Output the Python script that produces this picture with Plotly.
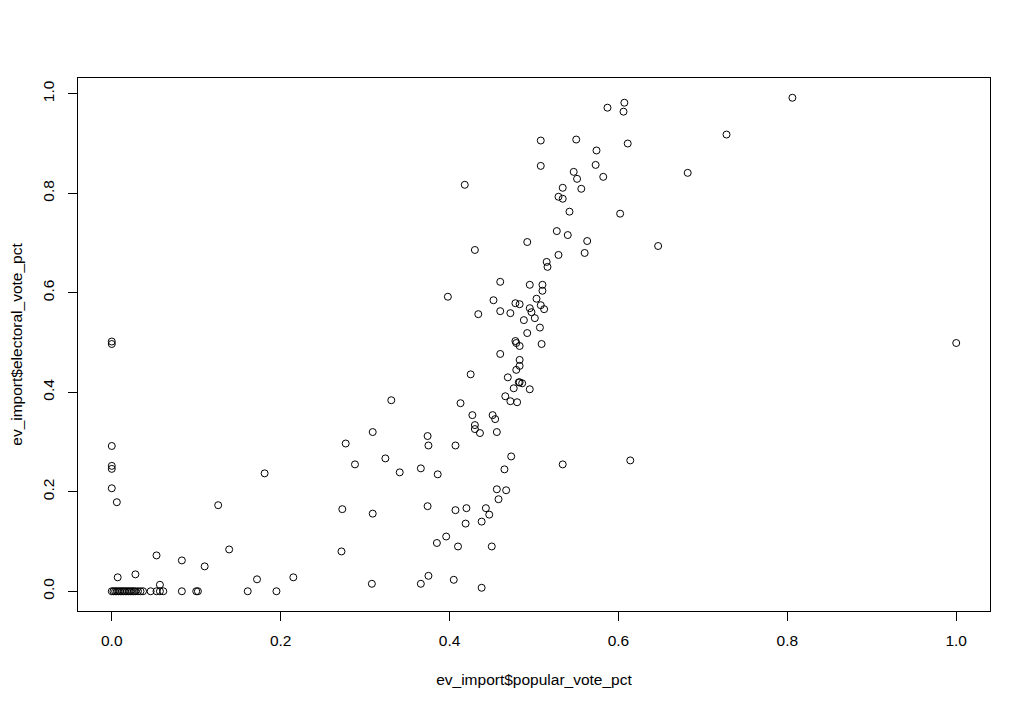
import plotly.graph_objects as go

popular_vote_pct = [
    0, 0, 0, 0, 0, 0, 0.006,
    0.007, 0.028, 0.053, 0.083, 0.110, 0.057, 0.126, 0.139, 0.181, 0.172, 0.215, 0.161, 0.195,
    0, 0.002, 0.004, 0.006, 0.008, 0.010, 0.012, 0.014, 0.016, 0.018, 0.020, 0.022, 0.024,
    0.026, 0.028, 0.031, 0.034, 0.037, 0.046, 0.053, 0.057, 0.061, 0.083, 0.100, 0.102,
    0.277, 0.288, 0.273, 0.272,
    0.331, 0.309, 0.374, 0.375, 0.407, 0.324, 0.341, 0.366, 0.386, 0.309, 0.374, 0.407,
    0.420, 0.419, 0.396, 0.385, 0.410, 0.308, 0.366, 0.375, 0.405, 0.438, 0.450, 0.438,
    0.447, 0.443, 0.458, 0.456, 0.467, 0.465, 0.473, 0.534, 0.456, 0.436, 0.430, 0.430,
    0.427, 0.451, 0.454, 0.413, 0.425, 0.466, 0.472, 0.480, 0.476, 0.495, 0.482, 0.483,
    0.486, 0.469, 0.479, 0.483, 0.483, 0.460, 0.478, 0.479, 0.483, 0.509, 0.492, 0.507,
    0.614,
    0.607, 0.606, 0.587, 0.508, 0.550, 0.611, 0.574, 0.508, 0.573, 0.547, 0.551, 0.582,
    0.418, 0.534, 0.556, 0.529, 0.534, 0.542, 0.602, 0.527, 0.540, 0.563, 0.492, 0.430,
    0.647, 0.529, 0.560, 0.515, 0.516, 0.460, 0.495, 0.510, 0.510, 0.398, 0.452, 0.503,
    0.478, 0.483, 0.508, 0.512, 0.495, 0.497, 0.460, 0.472, 0.434, 0.501, 0.488,
    0.806, 0.728, 0.682, 1.0,
]

electoral_vote_pct = [
    0.502, 0.497, 0.292, 0.252, 0.246, 0.207, 0.179,
    0.028, 0.034, 0.072, 0.062, 0.050, 0.013, 0.173, 0.084, 0.237, 0.024, 0.028, 0, 0,
    0, 0, 0, 0, 0, 0, 0, 0, 0, 0, 0, 0, 0,
    0, 0, 0, 0, 0, 0, 0, 0, 0, 0, 0, 0,
    0.297, 0.255, 0.165, 0.080,
    0.384, 0.320, 0.312, 0.293, 0.293, 0.267, 0.239, 0.247, 0.235, 0.156, 0.171, 0.163,
    0.167, 0.136, 0.110, 0.097, 0.090, 0.015, 0.015, 0.031, 0.023, 0.007, 0.090, 0.140,
    0.154, 0.167, 0.185, 0.205, 0.203, 0.245, 0.271, 0.255, 0.320, 0.318, 0.334, 0.326,
    0.354, 0.354, 0.346, 0.378, 0.436, 0.392, 0.382, 0.380, 0.408, 0.406, 0.420, 0.420,
    0.418, 0.430, 0.445, 0.453, 0.465, 0.477, 0.503, 0.499, 0.493, 0.497, 0.519, 0.530,
    0.263,
    0.982, 0.964, 0.972, 0.906, 0.908, 0.900, 0.886, 0.855, 0.857, 0.843, 0.829, 0.833,
    0.817, 0.811, 0.809, 0.793, 0.789, 0.763, 0.759, 0.724, 0.716, 0.704, 0.702, 0.686,
    0.694, 0.676, 0.680, 0.662, 0.652, 0.622, 0.616, 0.616, 0.604, 0.592, 0.585, 0.588,
    0.579, 0.577, 0.575, 0.567, 0.569, 0.561, 0.563, 0.559, 0.557, 0.549, 0.545,
    0.992, 0.918, 0.841, 0.499,
]

tick_vals = [0.0, 0.2, 0.4, 0.6, 0.8, 1.0]
tick_text = ["0.0", "0.2", "0.4", "0.6", "0.8", "1.0"]

FONT = "Liberation Sans, Arial, sans-serif"
FS = 15.5

fig = go.Figure()
fig.add_trace(go.Scatter(
    x=popular_vote_pct, y=electoral_vote_pct, mode="markers",
    marker=dict(symbol="circle-open", size=7, color="black", line=dict(width=1, color="black")),
    showlegend=False, hoverinfo="skip",
))

axis_common = dict(
    showgrid=False, zeroline=False, showline=True, mirror=True, automargin=False,
    linecolor="black", linewidth=1, ticks="outside", ticklen=9, tickwidth=1,
    tickcolor="black", tickvals=tick_vals, ticktext=tick_text,
    tickfont=dict(family=FONT, size=FS, color="black"),
)

fig.update_layout(
    width=1023, height=701,
    margin=dict(l=70, r=41, t=70, b=98),
    paper_bgcolor="white", plot_bgcolor="white",
    font=dict(family=FONT, color="black"),
    xaxis=dict(range=[-0.04, 1.04], ticklabelstandoff=6,
               title=dict(text="ev_import$popular_vote_pct",
                          font=dict(family=FONT, size=FS, color="black"), standoff=26),
               **axis_common),
    yaxis=dict(range=[-0.0397, 1.0317], tickangle=-90, ticklabelstandoff=8,
               title=dict(text="ev_import$electoral_vote_pct",
                          font=dict(family=FONT, size=FS, color="black"), standoff=20),
               **axis_common),
)

fig.write_html("out.html")
